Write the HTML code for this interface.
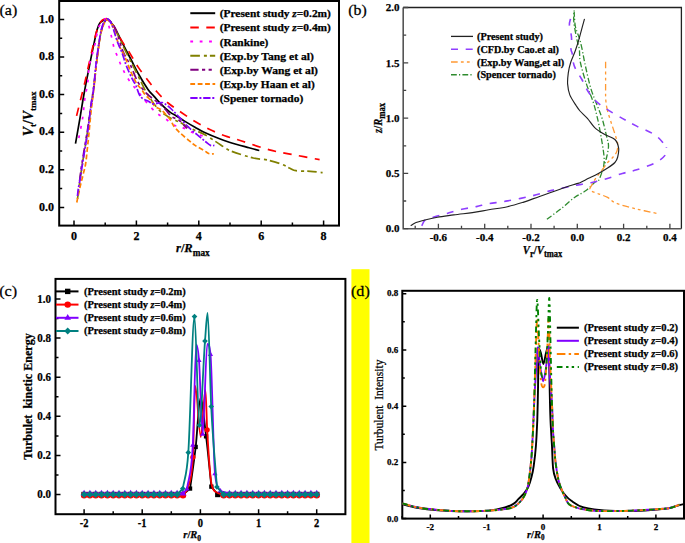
<!DOCTYPE html>
<html><head><meta charset="utf-8"><style>
html,body{margin:0;padding:0;background:#fff;width:685px;height:543px;overflow:hidden}
svg{display:block}
text{font-family:"Liberation Serif",serif;fill:#000;stroke:#000;stroke-width:0.25px}
</style></head><body>
<svg width="685" height="543" viewBox="0 0 685 543">
<rect width="685" height="543" fill="#fff"/>
<g id="pa">
<rect x="59.2" y="1" width="279.8" height="224.6" fill="none" stroke="#000" stroke-width="2"/>
<path d="M74,225.6 v-5 M105.2,225.6 v-3 M136.4,225.6 v-5 M167.6,225.6 v-3 M198.8,225.6 v-5 M230,225.6 v-3 M261.2,225.6 v-5 M292.4,225.6 v-3 M323.6,225.6 v-5 M59.2,207.4 h5 M59.2,188.6 h3 M59.2,169.8 h5 M59.2,151 h3 M59.2,132.2 h5 M59.2,113.4 h3 M59.2,94.6 h5 M59.2,75.8 h3 M59.2,57 h5 M59.2,38.2 h3 M59.2,19.4 h5" stroke="#000" stroke-width="1.5" fill="none"/>
<text x="74" y="240" font-size="12" text-anchor="middle" font-weight="bold" font-style="normal" >0</text>
<text x="136.4" y="240" font-size="12" text-anchor="middle" font-weight="bold" font-style="normal" >2</text>
<text x="198.8" y="240" font-size="12" text-anchor="middle" font-weight="bold" font-style="normal" >4</text>
<text x="261.2" y="240" font-size="12" text-anchor="middle" font-weight="bold" font-style="normal" >6</text>
<text x="323.6" y="240" font-size="12" text-anchor="middle" font-weight="bold" font-style="normal" >8</text>
<text x="53.9" y="210.5" font-size="12" text-anchor="end" font-weight="bold" font-style="normal" >0.0</text>
<text x="53.9" y="172.9" font-size="12" text-anchor="end" font-weight="bold" font-style="normal" >0.2</text>
<text x="53.9" y="135.3" font-size="12" text-anchor="end" font-weight="bold" font-style="normal" >0.4</text>
<text x="53.9" y="97.7" font-size="12" text-anchor="end" font-weight="bold" font-style="normal" >0.6</text>
<text x="53.9" y="60.1" font-size="12" text-anchor="end" font-weight="bold" font-style="normal" >0.8</text>
<text x="53.9" y="22.5" font-size="12" text-anchor="end" font-weight="bold" font-style="normal" >1.0</text>
<text x="176" y="252.4" font-size="12.5" font-weight="bold"><tspan font-style="italic">r</tspan>/<tspan font-style="italic">R</tspan><tspan font-size="9.3" dy="4">max</tspan></text>
<text transform="translate(33.4,136.2) rotate(-90)" font-size="13.8" font-weight="bold"><tspan font-style="italic">V</tspan><tspan font-size="9" dy="3">t</tspan><tspan dy="-3">/</tspan><tspan font-style="italic">V</tspan><tspan font-size="9" dy="3">tmax</tspan></text>
<path d="M190.3,13.2 H215.2" stroke="#000" stroke-width="2"/>
<text x="219.7" y="17.2" font-size="10.2" text-anchor="start" font-weight="bold" font-style="normal" textLength="111.2" lengthAdjust="spacingAndGlyphs">(Present study <tspan font-style="italic">z</tspan>=0.2m)</text>
<path d="M190.3,27.4 H215.2" stroke="#ff0000" stroke-width="2" stroke-dasharray="8.5 7.5"/>
<text x="219.7" y="31.4" font-size="10.2" text-anchor="start" font-weight="bold" font-style="normal" textLength="111.2" lengthAdjust="spacingAndGlyphs">(Present study <tspan font-style="italic">z</tspan>=0.4m)</text>
<path d="M190.3,41.5 H215.2" stroke="#ff00ff" stroke-width="2" stroke-dasharray="2.8 6.6"/>
<text x="219.7" y="45.5" font-size="10.2" text-anchor="start" font-weight="bold" font-style="normal" textLength="48.6" lengthAdjust="spacingAndGlyphs">(Rankine)</text>
<path d="M190.3,55.7 H215.2" stroke="#808000" stroke-width="2" stroke-dasharray="9.6 4 3 3"/>
<text x="219.7" y="59.7" font-size="10.2" text-anchor="start" font-weight="bold" font-style="normal" textLength="94.1" lengthAdjust="spacingAndGlyphs">(Exp.by Tang et al)</text>
<path d="M190.3,69.8 H215.2" stroke="#800080" stroke-width="2" stroke-dasharray="8.3 3.4 3.2 3.4 3.2 3.4"/>
<text x="219.7" y="73.8" font-size="10.2" text-anchor="start" font-weight="bold" font-style="normal" textLength="98.3" lengthAdjust="spacingAndGlyphs">(Exp.by Wang et al)</text>
<path d="M190.3,84 H215.2" stroke="#ff8000" stroke-width="2" stroke-dasharray="4.8 2.6"/>
<text x="219.7" y="88" font-size="10.2" text-anchor="start" font-weight="bold" font-style="normal" textLength="95.0" lengthAdjust="spacingAndGlyphs">(Exp.by Haan et al)</text>
<path d="M190.3,98.1 H215.2" stroke="#8000ff" stroke-width="2" stroke-dasharray="7.3 1.8 2 1.8"/>
<text x="219.7" y="102.1" font-size="10.2" text-anchor="start" font-weight="bold" font-style="normal" textLength="83.6" lengthAdjust="spacingAndGlyphs">(Spener tornado)</text>
</g>
<path d="M75.5,143.6 C76.2,139.3 78.6,126.3 80,118 C81.4,109.7 82.6,101.7 84,94 C85.4,86.3 86.8,79.1 88.3,71.7 C89.8,64.3 91.2,56.6 92.7,49.6 C94.2,42.6 95.9,34.1 97.1,29.7 C98.3,25.3 98.8,24.6 99.9,23 C101,21.4 102.5,21 103.7,20.3 C104.9,19.6 105.8,18.5 107,18.9 C108.2,19.3 109.5,20.6 111,22.5 C112.5,24.4 113.7,26.1 115.9,30 C118.1,34 121.4,41.1 124,46.2 C126.6,51.3 129.1,55.9 131.5,60.5 C133.9,65.1 135.8,69.2 138.5,74 C141.2,78.8 145.4,85.7 148,89.5 C150.6,93.3 152.2,94.2 154.3,96.6 C156.4,99 158.2,101.3 160.8,103.9 C163.4,106.5 167.4,110.2 170,112.2 C172.6,114.2 173.9,114.4 176.4,115.9 C178.9,117.4 181.9,119.5 185,121.4 C188.1,123.3 191.8,125.5 195,127.3 C198.2,129.1 200.2,130.5 204.1,132.3 C208,134.1 214.1,136.7 218.3,138.3 C222.5,140 224.2,140.6 229.3,142.2 C234.4,143.8 244,146.4 249,147.8 C254,149.2 257.6,150.1 259.3,150.5" stroke="#000" stroke-width="1.7" fill="none"/>
<path d="M76.6,115.9 C77.2,113.2 79.2,105.3 80.5,100 C81.8,94.7 83.3,89.1 84.5,84 C85.7,78.9 86.3,75.6 87.7,69.5 C89.1,63.4 91.2,54 92.7,47.4 C94.2,40.8 95.6,34.3 97,30 C98.4,25.7 99.7,23.3 101,21.5 C102.3,19.7 103.8,19.4 105,19 C106.2,18.6 106.7,18.2 108,19.2 C109.3,20.2 111.5,22.9 113,25 C114.5,27.1 115.5,29.3 117,32 C118.5,34.7 119.8,37.6 121.8,41 C123.8,44.4 126.5,47.8 129.2,52.1 C131.9,56.4 134.7,62 138,66.9 C141.3,71.8 145.6,77.2 148.8,81.4 C152,85.6 153.9,88.4 157.1,92 C160.3,95.6 164.1,99.6 168.1,103 C172.1,106.4 176.5,109.1 181,112.2 C185.5,115.3 190.4,118.8 195.1,121.6 C199.8,124.4 204.4,127 209.3,129.3 C214.2,131.7 219.4,133.8 224.7,135.7 C230,137.6 233.4,138.3 240.9,140.7 C248.4,143.1 260.5,147.5 269.5,149.9 C278.5,152.3 286.6,153.4 295,155 C303.4,156.6 315.5,158.9 319.6,159.7" stroke="#ff0000" stroke-width="1.7" fill="none" stroke-dasharray="8.5 7.5"/>
<path d="M78.8,138 C79.4,134.8 81.5,125.2 82.5,118.8 C83.5,112.4 83.9,105.6 84.7,99.7 C85.5,93.8 86.8,89.3 87.6,83.5 C88.4,77.7 88.3,71 89.4,65 C90.5,59 92.8,53.5 94.3,47.4 C95.8,41.3 96.8,33 98.2,28.6 C99.6,24.2 101.3,22.4 102.6,20.8 C103.9,19.2 105,18.5 106,19.2 C107,19.9 107.8,22.9 108.5,25 C109.2,27.1 109.9,29.5 110.5,32 C111.1,34.5 111.5,37.2 112.2,40 C112.9,42.8 113.4,46 114.4,49 C115.4,52 116.9,55 118.1,58 C119.3,61 120.4,64 121.8,66.9 C123.2,69.9 124.5,72.8 126.2,75.7 C127.9,78.7 130.2,82 132.1,84.6 C134,87.1 135.8,88.5 137.8,91 C139.8,93.5 141.6,96.5 143.9,99.3 C146.2,102.1 149.2,105.6 151.6,108.1 C153.9,110.6 155.7,112.3 158,114.1 C160.3,115.9 162.9,116.9 165.5,118.7 C168.1,120.5 170.9,123.6 173.7,125.1 C176.4,126.5 178.9,126.2 182,127.4 C185.1,128.6 188.2,130.8 192.5,132.5 C196.8,134.2 205.4,136.8 208,137.7" stroke="#ff00ff" stroke-width="1.7" fill="none" stroke-dasharray="2.8 6.6"/>
<path d="M77.5,199 C77.9,195.8 79.1,186.5 80,180 C80.9,173.5 82,166.2 83,160 C84,153.8 85,148.3 85.8,143 C86.6,137.7 87.2,133.8 88,128 C88.8,122.2 89.8,114.7 90.8,108 C91.8,101.3 92.7,96 93.7,88 C94.7,80 95.7,69 96.8,60 C97.9,51 99.5,40 100.6,34 C101.7,28 102.4,26.4 103.5,24 C104.6,21.6 105.9,20 107,19.5 C108.1,19 108.8,19.8 110,21 C111.2,22.2 112.7,24.7 114,27 C115.3,29.3 116.3,31.5 118,35 C119.7,38.5 121.4,42.7 124,48 C126.6,53.3 130.5,60.8 133.6,66.9 C136.7,73 140.5,80.7 142.4,84.6 C144.3,88.5 143.9,87.9 145.1,90.1 C146.3,92.2 147.8,94.7 149.7,97.5 C151.5,100.3 154,104.1 156.2,106.7 C158.3,109.3 160,111.1 162.6,113.1 C165.2,115.1 168.9,117.2 171.8,118.7 C174.7,120.2 177.3,121 180.1,122.4 C182.9,123.9 184.5,125.3 188.7,127.4 C192.9,129.5 200.1,132.2 205.4,135.1 C210.7,138 216.2,142.1 220.4,144.7 C224.6,147.3 225.2,148.7 230.7,150.9 C236.1,153.1 247,156.5 253.1,158 C259.2,159.5 262.6,159 267.4,160 C272.2,161 277.9,162.8 281.7,164.2 C285.4,165.6 287.5,167.1 289.9,168.2 C292.3,169.3 292.6,170.2 296,170.7 C299.4,171.2 306,171 310.4,171.3 C314.8,171.6 320.6,172.5 322.6,172.7" stroke="#808000" stroke-width="1.7" fill="none" stroke-dasharray="9.6 4 3 3"/>
<path d="M79.6,181 C79.9,178.9 80.6,172.2 81.2,168.2 C81.8,164.2 82.3,161.4 83,157 C83.7,152.6 84.7,147 85.5,142 C86.3,137 87.1,133 88,127 C88.9,121 89.8,113 90.8,106 C91.8,99 93,93 94,85 C95,77 95.9,66.7 97,58 C98.1,49.3 99.6,38.8 100.8,33 C102,27.2 102.9,25.3 104,23 C105.1,20.7 106.3,19.5 107.5,19.3 C108.7,19.1 109.6,20.2 111,22 C112.4,23.8 114,25 116,30 C118,35 120.9,46.2 123.3,52.1 C125.7,58 128.2,60.5 130.6,65.4 C133,70.4 135.2,77.2 137.8,81.8 C140.4,86.4 143.2,89.9 146,92.9 C148.8,95.9 152,98 154.3,99.8 C156.6,101.6 158.1,102.3 159.9,103.9 C161.8,105.5 163.4,107.3 165.4,109.5 C167.4,111.7 169.7,115.1 171.8,116.8 C174,118.5 176.3,118.2 178.3,119.6 C180.3,121 182.4,123.6 183.8,125.1 C185.2,126.6 186.5,127.9 187,128.5" stroke="#800080" stroke-width="1.7" fill="none" stroke-dasharray="8.3 3.4 3.2 3.4 3.2 3.4"/>
<path d="M76.8,202.5 C77,201.2 77.7,197.9 78.3,195 C78.9,192.1 79.7,188.3 80.5,185 C81.3,181.7 82.2,178.5 83,175 C83.8,171.5 84.9,168.2 85.6,164 C86.3,159.8 86.7,154.8 87.2,150 C87.7,145.2 88.2,141 88.8,135 C89.4,129 90,121.2 90.8,114 C91.6,106.8 92.5,100.3 93.5,92 C94.5,83.7 95.3,73.3 96.5,64 C97.7,54.7 99.2,42.5 100.4,36 C101.6,29.5 102.5,27.7 103.5,25 C104.5,22.3 105.6,20.7 106.5,20 C107.4,19.3 107.9,19.8 109,21 C110.1,22.2 111.4,23.1 113,27 C114.6,30.9 116.8,39.8 118.8,44.7 C120.8,49.6 122.7,52.1 124.7,56.5 C126.7,60.9 128.6,66.8 130.6,71.3 C132.6,75.8 135,80.7 136.8,83.7 C138.6,86.7 140,87.4 141.4,89.2 C142.8,91 143.6,92.9 145.1,94.7 C146.6,96.5 149,98.3 150.7,100.3 C152.4,102.3 153.6,105.2 155.3,106.7 C157,108.2 159,108.1 160.8,109.5 C162.6,110.9 164.6,113.2 166.3,115 C168,116.8 169.7,118.7 170.9,120.5 C172.1,122.3 172.2,124 173.7,126 C175.1,128 177.1,130.1 179.6,132.5 C182.1,134.9 186.1,138.2 188.7,140.3 C191.3,142.5 192.5,143.7 195.1,145.4 C197.7,147.1 201.7,149.2 204.1,150.6 C206.5,152 207.7,153.3 209.3,153.8 C210.9,154.3 213.1,153.8 213.8,153.8" stroke="#ff8000" stroke-width="1.7" fill="none" stroke-dasharray="4.8 2.6"/>
<path d="M77.5,196 C77.6,194.8 77.8,192 78.3,188.8 C78.8,185.6 79.8,181.4 80.5,177 C81.2,172.6 81.9,167.8 82.7,162.4 C83.5,157 84.7,150.1 85.6,144.7 C86.5,139.3 87.1,136 87.9,130 C88.7,124 89.7,115.3 90.6,108.5 C91.5,101.7 92.5,97.5 93.5,89.4 C94.5,81.3 95.3,69.2 96.5,60 C97.7,50.8 99.3,40.1 100.4,34.1 C101.5,28.1 102.1,26.5 103,24 C103.9,21.5 105.1,20.1 106,19.3 C106.9,18.6 107.5,18.6 108.5,19.5 C109.5,20.4 110.5,21.3 112,25 C113.5,28.7 115.8,37.3 117.4,41.8 C119,46.3 120.3,48.2 121.8,52.1 C123.3,56 124.5,61 126.2,65.4 C127.9,69.8 130.5,75.4 132.1,78.7 C133.7,82 134.5,82.5 135.9,85.5 C137.3,88.5 138.3,93.9 140.5,96.6 C142.7,99.3 146.7,100.4 148.8,101.6 C151,102.8 151.4,103.7 153.4,103.9 C155.4,104.1 159,102.7 160.8,102.6 C162.7,102.5 162.7,102.3 164.5,103.5 C166.3,104.7 169.3,107.1 171.8,109.5 C174.3,111.9 176.8,114.7 179.6,117.7 C182.4,120.7 185.7,124.5 188.7,127.4 C191.7,130.3 194.9,132.8 197.7,135.1 C200.5,137.4 203.2,139.8 205.4,141.5 C207.6,143.2 209.1,144.8 210.6,145.4 C212.1,146.1 213.8,145.4 214.4,145.4" stroke="#8000ff" stroke-width="1.7" fill="none" stroke-dasharray="7.3 1.8 2 1.8"/>
<g id="pb">
<path d="M403.2,7.5 H681.4 V228.7" stroke="#222" stroke-width="1.3" fill="none"/>
<path d="M403.2,7.5 V228.7 H681.4" stroke="#555" stroke-width="1.6" fill="none"/>
<path d="M415.2,228.7 v-3 M438.4,228.7 v-5 M461.5,228.7 v-3 M484.7,228.7 v-5 M507.8,228.7 v-3 M531,228.7 v-5 M554.1,228.7 v-3 M577.3,228.7 v-5 M600.4,228.7 v-3 M623.6,228.7 v-5 M646.8,228.7 v-3 M669.9,228.7 v-5 M403.2,228.7 h5 M403.2,201 h3 M403.2,173.4 h5 M403.2,145.8 h3 M403.2,118.1 h5 M403.2,90.4 h3 M403.2,62.8 h5 M403.2,35.2 h3 M403.2,7.5 h5" stroke="#444" stroke-width="1.3" fill="none"/>
<text x="438.4" y="241.2" font-size="11" text-anchor="middle" font-weight="bold" font-style="normal" >-0.6</text>
<text x="484.7" y="241.2" font-size="11" text-anchor="middle" font-weight="bold" font-style="normal" >-0.4</text>
<text x="531" y="241.2" font-size="11" text-anchor="middle" font-weight="bold" font-style="normal" >-0.2</text>
<text x="577.3" y="241.2" font-size="11" text-anchor="middle" font-weight="bold" font-style="normal" >0.0</text>
<text x="623.6" y="241.2" font-size="11" text-anchor="middle" font-weight="bold" font-style="normal" >0.2</text>
<text x="669.9" y="241.2" font-size="11" text-anchor="middle" font-weight="bold" font-style="normal" >0.4</text>
<text x="399.5" y="231.5" font-size="11" text-anchor="end" font-weight="bold" font-style="normal" >0.0</text>
<text x="399.5" y="177.2" font-size="11" text-anchor="end" font-weight="bold" font-style="normal" >0.5</text>
<text x="399.5" y="121.9" font-size="11" text-anchor="end" font-weight="bold" font-style="normal" >1.0</text>
<text x="399.5" y="66.6" font-size="11" text-anchor="end" font-weight="bold" font-style="normal" >1.5</text>
<text x="399.5" y="11.3" font-size="11" text-anchor="end" font-weight="bold" font-style="normal" >2.0</text>
<text x="522.8" y="253.5" font-size="12" font-weight="bold" textLength="39.5" lengthAdjust="spacingAndGlyphs"><tspan font-style="italic">V</tspan><tspan font-size="9.5" dy="3">r</tspan><tspan dy="-3">/</tspan><tspan font-style="italic">V</tspan><tspan font-size="9.5" dy="3">tmax</tspan></text>
<text transform="translate(382.4,132.9) rotate(-90)" font-size="11.5" font-weight="bold" textLength="30" lengthAdjust="spacingAndGlyphs"><tspan font-style="italic">z</tspan>/<tspan font-style="italic">R</tspan><tspan font-size="9.5" dy="3">max</tspan></text>
<path d="M451,36.4 H473" stroke="#222" stroke-width="1.3"/>
<text x="477" y="39.9" font-size="9.6" text-anchor="start" font-weight="bold" font-style="normal" textLength="66.0" lengthAdjust="spacingAndGlyphs">(Present study)</text>
<path d="M451,49.2 H473" stroke="#8f3fff" stroke-width="1.4" stroke-dasharray="7 7.7"/>
<text x="477" y="52.7" font-size="9.6" text-anchor="start" font-weight="bold" font-style="normal" textLength="82.0" lengthAdjust="spacingAndGlyphs">(CFD.by Cao.et al)</text>
<path d="M451,62 H473" stroke="#ff9933" stroke-width="1.4" stroke-dasharray="6.7 3.2 2.8 3.2 2.8 3.2"/>
<text x="477" y="65.5" font-size="9.6" text-anchor="start" font-weight="bold" font-style="normal" textLength="87.2" lengthAdjust="spacingAndGlyphs">(Exp.by Wang,et al)</text>
<path d="M451,74.8 H473" stroke="#2e8b2e" stroke-width="1.4" stroke-dasharray="5.8 2.2 1.2 2.2"/>
<text x="477" y="78.3" font-size="9.6" text-anchor="start" font-weight="bold" font-style="normal" textLength="78.8" lengthAdjust="spacingAndGlyphs">(Spencer tornado)</text>
</g>
<path d="M546.9,219.3 C549.2,217.6 556.1,212.6 560.7,209 C565.3,205.4 570.3,200.6 574.5,197.5 C578.7,194.4 582.5,193.2 586,190.6 C589.5,188 593.1,183.6 595.2,182 C597.3,180.4 597.2,182.6 598.4,180.9 C599.5,179.2 601.2,174.5 602.1,171.7 C603,168.9 603.6,167.1 603.9,164.3 C604.2,161.5 604.4,159.7 603.9,155.1 C603.4,150.5 602.2,142.9 601.1,136.8 C600,130.7 598.9,124.3 597.5,118.4 C596.1,112.5 594.9,107.2 593,101.5 C591.1,95.8 588.5,90.4 586.4,83.9 C584.3,77.4 581.6,68.3 580.4,62.5 C579.2,56.7 579.9,53.3 579.3,49.2 C578.7,45.1 577.5,42.7 576.6,38.1 C575.7,33.5 574.2,26.1 573.8,21.6 C573.4,17.1 574,12 574.1,11.1 C574.2,10.2 574.2,13.3 574.4,16 C574.6,18.7 574.7,23.4 575.5,27.1 C576.3,30.8 578.2,34.4 579.3,38.1 C580.4,41.8 581.2,45 582.1,49.2 C583,53.5 583.5,57.1 584.9,63.6 C586.3,70.1 588.7,81.2 590.8,88.3 C592.9,95.4 595.5,101 597.4,106 C599.3,111 600.5,113.3 602.1,118.4 C603.7,123.5 605.6,132.2 606.7,136.8 C607.8,141.4 608.5,142.6 608.5,146 C608.5,149.4 607.5,153.6 606.7,157 C605.9,160.4 604.4,164.7 603.9,166.2" stroke="#2e8b2e" stroke-width="1.3" fill="none" stroke-dasharray="5.8 2.2 1.2 2.2"/>
<path d="M605.6,61.8 C605.6,66.2 605.6,81.9 605.6,88.3 C605.6,94.7 605.5,96.2 605.8,100 C606.1,103.8 606.5,106.7 607.6,111 C608.7,115.3 610.8,121.4 612.2,125.7 C613.6,130 614.9,133.7 615.8,136.8 C616.7,139.9 617.5,141.7 617.7,144.1 C617.9,146.5 617.6,149.3 616.8,151.5 C616,153.7 614.6,155.2 613.1,157 C611.6,158.8 609.4,160.3 607.6,162.5 C605.8,164.7 604,167.5 602.1,169.9 C600.2,172.3 598.2,174.8 596.5,177.2 C594.8,179.6 593.1,182.4 592,184.6 C590.9,186.8 589,188.6 590.1,190.1 C591.2,191.6 595.5,192.6 598.4,193.8 C601.3,195 604.7,195.8 607.6,197.4 C610.5,199 611.1,201.3 616,203.2 C620.9,205.1 629.8,207.3 636.7,209 C643.6,210.7 654,212.8 657.4,213.6" stroke="#ff9933" stroke-width="1.3" fill="none" stroke-dasharray="6.7 3.2 2.8 3.2 2.8 3.2"/>
<path d="M421.8,225.8 C422.4,224.8 423.3,221.4 425.3,219.9 C427.3,218.4 430.4,218.1 434,217 C437.6,215.9 442.6,214.7 447.2,213.4 C451.8,212.1 456.9,210.4 461.8,209.3 C466.7,208.2 471.9,207.5 476.4,206.6 C480.9,205.7 483.6,204.6 488.8,203.7 C494,202.8 500.5,202.2 507.5,200.9 C514.5,199.7 523.4,197.9 530.8,196.2 C538.2,194.4 545.4,192 551.9,190.4 C558.4,188.8 565.2,187.5 569.9,186.5 C574.6,185.5 576.5,185.2 580,184.6 C583.5,184 586.7,183.6 591,182.7 C595.3,181.8 600.5,180.5 605.7,179 C610.9,177.5 617.1,175 622.3,173.5 C627.5,172 631.2,171.6 636.7,169.8 C642.2,168 650.3,165.4 655.1,162.9 C659.9,160.4 663.4,157.7 665.3,155 C667.2,152.3 666.3,148.3 666.5,147" stroke="#8f3fff" stroke-width="1.6" fill="none" stroke-dasharray="7 7.7"/>
<path d="M570.5,18.8 C570.3,19.8 569.3,22.4 569.4,24.9 C569.5,27.4 570.6,31.3 571,33.7 C571.4,36.1 571.6,36.7 571.6,39.3 C571.6,41.9 570.9,46.8 571,49.2 C571.1,51.6 571.8,51.4 572.2,53.6 C572.6,55.8 572.8,60 573.3,62.5 C573.8,65 573.9,65.6 575.3,68.4 C576.7,71.2 579.9,75.8 581.9,79.5 C583.9,83.2 585.4,87.1 587.5,90.5 C589.6,93.9 592,97.2 594.7,100 C597.4,102.8 599.3,104.3 603.9,107.4 C608.5,110.5 616.8,115.3 622.3,118.4 C627.8,121.5 631.2,123.3 636.7,126.1 C642.2,128.9 650.5,131.8 655.5,135.3 C660.5,138.8 664.7,145.1 666.5,147" stroke="#8f3fff" stroke-width="1.6" fill="none" stroke-dasharray="7 7.7"/>
<path d="M584.5,18.8 C583.6,22 580.8,32.8 579.3,38.1 C577.8,43.4 576.7,46.8 575.3,50.8 C573.9,54.8 572.1,58.1 570.9,61.8 C569.7,65.5 568.8,69.1 568.3,72.8 C567.8,76.5 567.4,80.2 567.6,83.9 C567.9,87.6 568.3,91.2 569.8,94.9 C571.3,98.6 574.7,103.3 576.4,106 C578.1,108.7 578.2,108.9 580,111 C581.8,113.1 584.9,115.6 587.4,118.4 C589.9,121.2 592,125 594.7,127.6 C597.5,130.2 600.5,132 603.9,134 C607.3,136 612.4,137.2 614.9,139.5 C617.4,141.8 618.1,144.9 618.6,147.8 C619.1,150.7 618.3,154.6 617.7,157 C617.1,159.4 616.6,160.7 614.9,162.5 C613.2,164.3 610.4,166.2 607.6,168 C604.9,169.8 601.5,171.8 598.4,173.5 C595.3,175.2 592.3,176.6 589.2,178.1 C586.1,179.6 582.1,181.8 580,182.7 C577.9,183.6 580.1,182.5 576.8,183.6 C573.5,184.7 566.1,187.1 560,189.2 C553.9,191.3 546.2,194 540.2,196.2 C534.2,198.3 529.2,200.3 523.8,202.1 C518.3,203.8 513.3,205.4 507.5,206.7 C501.7,208 494.7,208.8 488.8,209.8 C482.9,210.8 478.2,211.8 472.4,212.6 C466.5,213.4 459.5,214.1 453.7,214.9 C447.9,215.7 442.3,216.3 437.4,217.2 C432.4,218.1 427.6,219.4 424,220.3 C420.4,221.2 417.7,221.9 415.5,222.8 C413.3,223.7 411.5,225.2 410.7,225.7" stroke="#222" stroke-width="1.15" fill="none"/>
<g id="pc">
<rect x="55.5" y="278.9" width="289.9" height="235.3" fill="none" stroke="#000" stroke-width="2"/>
<path d="M84.1,514.2 v-5 M113.2,514.2 v-3 M142.2,514.2 v-5 M171.3,514.2 v-3 M200.4,514.2 v-5 M229.5,514.2 v-3 M258.6,514.2 v-5 M287.6,514.2 v-3 M316.7,514.2 v-5 M55.5,494.5 h5 M55.5,474.9 h3 M55.5,455.4 h5 M55.5,435.9 h3 M55.5,416.3 h5 M55.5,396.8 h3 M55.5,377.2 h5 M55.5,357.6 h3 M55.5,338.1 h5 M55.5,318.5 h3 M55.5,299 h5" stroke="#000" stroke-width="1.5" fill="none"/>
<text transform="translate(84.1,527.2) scale(0.86,1)" font-size="12.2" text-anchor="middle" font-weight="bold">-2</text>
<text transform="translate(142.2,527.2) scale(0.86,1)" font-size="12.2" text-anchor="middle" font-weight="bold">-1</text>
<text transform="translate(200.4,527.2) scale(0.86,1)" font-size="12.2" text-anchor="middle" font-weight="bold">0</text>
<text transform="translate(258.6,527.2) scale(0.86,1)" font-size="12.2" text-anchor="middle" font-weight="bold">1</text>
<text transform="translate(316.7,527.2) scale(0.86,1)" font-size="12.2" text-anchor="middle" font-weight="bold">2</text>
<text transform="translate(51.0,498.1) scale(0.88,1)" font-size="12.5" text-anchor="end" font-weight="bold">0.0</text>
<text transform="translate(51.0,459) scale(0.88,1)" font-size="12.5" text-anchor="end" font-weight="bold">0.2</text>
<text transform="translate(51.0,419.9) scale(0.88,1)" font-size="12.5" text-anchor="end" font-weight="bold">0.4</text>
<text transform="translate(51.0,380.8) scale(0.88,1)" font-size="12.5" text-anchor="end" font-weight="bold">0.6</text>
<text transform="translate(51.0,341.7) scale(0.88,1)" font-size="12.5" text-anchor="end" font-weight="bold">0.8</text>
<text transform="translate(51.0,302.6) scale(0.88,1)" font-size="12.5" text-anchor="end" font-weight="bold">1.0</text>
<text x="183.3" y="538.3" font-size="10.5" font-weight="bold"><tspan font-style="italic">r</tspan>/<tspan font-style="italic">R</tspan><tspan font-size="7.5" dy="2.8">0</tspan></text>
<text transform="translate(31.6,459.7) rotate(-90)" font-size="12" font-weight="bold" xml:space="preserve" textLength="126.4" lengthAdjust="spacingAndGlyphs">Turbulet  kinetic Energy</text>
</g>
<path d="M56,291.4 H78.5" stroke="#000" stroke-width="2"/>
<rect x="65" y="288.7" width="5.4" height="5.4" fill="#000"/>
<text x="84" y="294.6" font-size="9.8" text-anchor="start" font-weight="bold" font-style="normal" textLength="101.8" lengthAdjust="spacingAndGlyphs">(Present study <tspan font-style="italic">z</tspan>=0.2m)</text>
<path d="M56,304.6 H78.5" stroke="#ff0000" stroke-width="2"/>
<circle cx="67.7" cy="304.6" r="3.2" fill="#ff0000"/>
<text x="84" y="307.8" font-size="9.8" text-anchor="start" font-weight="bold" font-style="normal" textLength="101.8" lengthAdjust="spacingAndGlyphs">(Present study <tspan font-style="italic">z</tspan>=0.4m)</text>
<path d="M56,317.8 H78.5" stroke="#8000ff" stroke-width="2"/>
<path d="M67.7,314.1 l3.3,5.6 h-6.6z" fill="#8000ff"/>
<text x="84" y="321" font-size="9.8" text-anchor="start" font-weight="bold" font-style="normal" textLength="101.8" lengthAdjust="spacingAndGlyphs">(Present study <tspan font-style="italic">z</tspan>=0.6m)</text>
<path d="M56,331 H78.5" stroke="#008080" stroke-width="2"/>
<path d="M67.7,327.5 l3.5,3.5 l-3.5,3.5 l-3.5,-3.5 z" fill="#008080"/>
<text x="84" y="334.2" font-size="9.8" text-anchor="start" font-weight="bold" font-style="normal" textLength="101.8" lengthAdjust="spacingAndGlyphs">(Present study <tspan font-style="italic">z</tspan>=0.8m)</text>
<path d="M84.1,494.5 L89.9,494.5 L95.7,494.5 L101.5,494.5 L107.4,494.5 L113.2,494.5 L119,494.5 L124.8,494.5 L130.6,494.5 L136.4,494.5 L142.2,494.5 L148.1,494.5 L153.9,494.5 L159.7,494.5 L165.5,494.5 L171.3,494.5 L177.1,494.5 L183,494.5 L190.1,488.6" stroke="#000" stroke-width="1.8" fill="none"/>
<path d="M190.1,488.6 C192,474.7 193.8,463.5 195.7,447 C197.3,432.9 198.9,398 200.5,398 C202.4,398 204.2,421.1 206.1,436.4 C207.9,450.8 209.6,469.9 211.4,486.7" stroke="#000" stroke-width="1.8" fill="none"/>
<path d="M211.4,486.7 L217.8,494.5 L223.7,494.5 L229.5,494.5 L235.3,494.5 L241.1,494.5 L246.9,494.5 L252.7,494.5 L258.6,494.5 L264.4,494.5 L270.2,494.5 L276,494.5 L281.8,494.5 L287.6,494.5 L293.4,494.5 L299.3,494.5 L305.1,494.5 L310.9,494.5 L316.7,494.5" stroke="#000" stroke-width="1.8" fill="none"/>
<rect x="81.4" y="491.8" width="5.4" height="5.4" fill="#000"/><rect x="87.2" y="491.8" width="5.4" height="5.4" fill="#000"/><rect x="93" y="491.8" width="5.4" height="5.4" fill="#000"/><rect x="98.8" y="491.8" width="5.4" height="5.4" fill="#000"/><rect x="104.7" y="491.8" width="5.4" height="5.4" fill="#000"/><rect x="110.5" y="491.8" width="5.4" height="5.4" fill="#000"/><rect x="116.3" y="491.8" width="5.4" height="5.4" fill="#000"/><rect x="122.1" y="491.8" width="5.4" height="5.4" fill="#000"/><rect x="127.9" y="491.8" width="5.4" height="5.4" fill="#000"/><rect x="133.7" y="491.8" width="5.4" height="5.4" fill="#000"/><rect x="139.6" y="491.8" width="5.4" height="5.4" fill="#000"/><rect x="145.4" y="491.8" width="5.4" height="5.4" fill="#000"/><rect x="151.2" y="491.8" width="5.4" height="5.4" fill="#000"/><rect x="157" y="491.8" width="5.4" height="5.4" fill="#000"/><rect x="162.8" y="491.8" width="5.4" height="5.4" fill="#000"/><rect x="168.6" y="491.8" width="5.4" height="5.4" fill="#000"/><rect x="174.4" y="491.8" width="5.4" height="5.4" fill="#000"/><rect x="180.3" y="491.8" width="5.4" height="5.4" fill="#000"/><rect x="215.1" y="491.8" width="5.4" height="5.4" fill="#000"/><rect x="221" y="491.8" width="5.4" height="5.4" fill="#000"/><rect x="226.8" y="491.8" width="5.4" height="5.4" fill="#000"/><rect x="232.6" y="491.8" width="5.4" height="5.4" fill="#000"/><rect x="238.4" y="491.8" width="5.4" height="5.4" fill="#000"/><rect x="244.2" y="491.8" width="5.4" height="5.4" fill="#000"/><rect x="250" y="491.8" width="5.4" height="5.4" fill="#000"/><rect x="255.9" y="491.8" width="5.4" height="5.4" fill="#000"/><rect x="261.7" y="491.8" width="5.4" height="5.4" fill="#000"/><rect x="267.5" y="491.8" width="5.4" height="5.4" fill="#000"/><rect x="273.3" y="491.8" width="5.4" height="5.4" fill="#000"/><rect x="279.1" y="491.8" width="5.4" height="5.4" fill="#000"/><rect x="284.9" y="491.8" width="5.4" height="5.4" fill="#000"/><rect x="290.7" y="491.8" width="5.4" height="5.4" fill="#000"/><rect x="296.6" y="491.8" width="5.4" height="5.4" fill="#000"/><rect x="302.4" y="491.8" width="5.4" height="5.4" fill="#000"/><rect x="308.2" y="491.8" width="5.4" height="5.4" fill="#000"/><rect x="314" y="491.8" width="5.4" height="5.4" fill="#000"/><rect x="187.9" y="486.4" width="4.3" height="4.3" fill="#000"/><rect x="193.5" y="444.8" width="4.3" height="4.3" fill="#000"/><rect x="203.9" y="434.2" width="4.3" height="4.3" fill="#000"/><rect x="209.2" y="484.5" width="4.3" height="4.3" fill="#000"/>
<path d="M84.1,495.3 L89.9,495.3 L95.7,495.3 L101.5,495.3 L107.4,495.3 L113.2,495.3 L119,495.3 L124.8,495.3 L130.6,495.3 L136.4,495.3 L142.2,495.3 L148.1,495.3 L153.9,495.3 L159.7,495.3 L165.5,495.3 L171.3,495.3 L177.1,495.3 L183,495.3 L187,490.5" stroke="#ff0000" stroke-width="1.8" fill="none"/>
<path d="M187,490.5 C189,480.7 190.9,489 192.9,457.2 C193.7,444.8 194.4,386 195.2,386 C197.1,386 198.9,437 200.8,437 C202.3,437 203.9,389.9 205.4,389.9 C206,389.9 206.6,419.4 207.2,429.8 C208.6,454.7 210.1,476.9 211.5,484 C213.2,492.3 214.8,490.5 216.5,492.5" stroke="#ff0000" stroke-width="1.8" fill="none"/>
<path d="M216.5,492.5 L223.7,495.3 L229.5,495.3 L235.3,495.3 L241.1,495.3 L246.9,495.3 L252.7,495.3 L258.6,495.3 L264.4,495.3 L270.2,495.3 L276,495.3 L281.8,495.3 L287.6,495.3 L293.4,495.3 L299.3,495.3 L305.1,495.3 L310.9,495.3 L316.7,495.3" stroke="#ff0000" stroke-width="1.8" fill="none"/>
<circle cx="84.1" cy="495.3" r="3.2" fill="#ff0000"/><circle cx="89.9" cy="495.3" r="3.2" fill="#ff0000"/><circle cx="95.7" cy="495.3" r="3.2" fill="#ff0000"/><circle cx="101.5" cy="495.3" r="3.2" fill="#ff0000"/><circle cx="107.4" cy="495.3" r="3.2" fill="#ff0000"/><circle cx="113.2" cy="495.3" r="3.2" fill="#ff0000"/><circle cx="119" cy="495.3" r="3.2" fill="#ff0000"/><circle cx="124.8" cy="495.3" r="3.2" fill="#ff0000"/><circle cx="130.6" cy="495.3" r="3.2" fill="#ff0000"/><circle cx="136.4" cy="495.3" r="3.2" fill="#ff0000"/><circle cx="142.2" cy="495.3" r="3.2" fill="#ff0000"/><circle cx="148.1" cy="495.3" r="3.2" fill="#ff0000"/><circle cx="153.9" cy="495.3" r="3.2" fill="#ff0000"/><circle cx="159.7" cy="495.3" r="3.2" fill="#ff0000"/><circle cx="165.5" cy="495.3" r="3.2" fill="#ff0000"/><circle cx="171.3" cy="495.3" r="3.2" fill="#ff0000"/><circle cx="177.1" cy="495.3" r="3.2" fill="#ff0000"/><circle cx="183" cy="495.3" r="3.2" fill="#ff0000"/><circle cx="223.7" cy="495.3" r="3.2" fill="#ff0000"/><circle cx="229.5" cy="495.3" r="3.2" fill="#ff0000"/><circle cx="235.3" cy="495.3" r="3.2" fill="#ff0000"/><circle cx="241.1" cy="495.3" r="3.2" fill="#ff0000"/><circle cx="246.9" cy="495.3" r="3.2" fill="#ff0000"/><circle cx="252.7" cy="495.3" r="3.2" fill="#ff0000"/><circle cx="258.6" cy="495.3" r="3.2" fill="#ff0000"/><circle cx="264.4" cy="495.3" r="3.2" fill="#ff0000"/><circle cx="270.2" cy="495.3" r="3.2" fill="#ff0000"/><circle cx="276" cy="495.3" r="3.2" fill="#ff0000"/><circle cx="281.8" cy="495.3" r="3.2" fill="#ff0000"/><circle cx="287.6" cy="495.3" r="3.2" fill="#ff0000"/><circle cx="293.4" cy="495.3" r="3.2" fill="#ff0000"/><circle cx="299.3" cy="495.3" r="3.2" fill="#ff0000"/><circle cx="305.1" cy="495.3" r="3.2" fill="#ff0000"/><circle cx="310.9" cy="495.3" r="3.2" fill="#ff0000"/><circle cx="316.7" cy="495.3" r="3.2" fill="#ff0000"/><circle cx="192.9" cy="457.2" r="2.6" fill="#ff0000"/><circle cx="207.2" cy="429.8" r="2.6" fill="#ff0000"/>
<path d="M84.1,493.5 L89.9,493.5 L95.7,493.5 L101.5,493.5 L107.4,493.5 L113.2,493.5 L119,493.5 L124.8,493.5 L130.6,493.5 L136.4,493.5 L142.2,493.5 L148.1,493.5 L153.9,493.5 L159.7,493.5 L165.5,493.5 L171.3,493.5 L177.1,493.5 L183,493.5 L187,489" stroke="#8000ff" stroke-width="1.8" fill="none"/>
<path d="M187,489 C188.9,474.4 190.9,480.4 192.8,445.3 C194,424.1 195.1,344.7 196.3,344.7 C197.2,344.7 198.1,348.8 199,360.4 C200.2,376.3 201.5,434.2 202.7,434.2 C204.2,434.2 205.8,343.8 207.3,343.8 C208.4,343.8 209.4,343.8 210.5,354.4 C212,369.3 213.5,460 215,473.8 C216.8,490.6 218.7,487.5 220.5,491" stroke="#8000ff" stroke-width="1.8" fill="none"/>
<path d="M220.5,491 L229.5,493.5 L235.3,493.5 L241.1,493.5 L246.9,493.5 L252.7,493.5 L258.6,493.5 L264.4,493.5 L270.2,493.5 L276,493.5 L281.8,493.5 L287.6,493.5 L293.4,493.5 L299.3,493.5 L305.1,493.5 L310.9,493.5 L316.7,493.5" stroke="#8000ff" stroke-width="1.8" fill="none"/>
<path d="M84.1,489.8 l3.3,5.6 h-6.6z" fill="#8000ff"/><path d="M89.9,489.8 l3.3,5.6 h-6.6z" fill="#8000ff"/><path d="M95.7,489.8 l3.3,5.6 h-6.6z" fill="#8000ff"/><path d="M101.5,489.8 l3.3,5.6 h-6.6z" fill="#8000ff"/><path d="M107.4,489.8 l3.3,5.6 h-6.6z" fill="#8000ff"/><path d="M113.2,489.8 l3.3,5.6 h-6.6z" fill="#8000ff"/><path d="M119,489.8 l3.3,5.6 h-6.6z" fill="#8000ff"/><path d="M124.8,489.8 l3.3,5.6 h-6.6z" fill="#8000ff"/><path d="M130.6,489.8 l3.3,5.6 h-6.6z" fill="#8000ff"/><path d="M136.4,489.8 l3.3,5.6 h-6.6z" fill="#8000ff"/><path d="M142.2,489.8 l3.3,5.6 h-6.6z" fill="#8000ff"/><path d="M148.1,489.8 l3.3,5.6 h-6.6z" fill="#8000ff"/><path d="M153.9,489.8 l3.3,5.6 h-6.6z" fill="#8000ff"/><path d="M159.7,489.8 l3.3,5.6 h-6.6z" fill="#8000ff"/><path d="M165.5,489.8 l3.3,5.6 h-6.6z" fill="#8000ff"/><path d="M171.3,489.8 l3.3,5.6 h-6.6z" fill="#8000ff"/><path d="M177.1,489.8 l3.3,5.6 h-6.6z" fill="#8000ff"/><path d="M183,489.8 l3.3,5.6 h-6.6z" fill="#8000ff"/><path d="M229.5,489.8 l3.3,5.6 h-6.6z" fill="#8000ff"/><path d="M235.3,489.8 l3.3,5.6 h-6.6z" fill="#8000ff"/><path d="M241.1,489.8 l3.3,5.6 h-6.6z" fill="#8000ff"/><path d="M246.9,489.8 l3.3,5.6 h-6.6z" fill="#8000ff"/><path d="M252.7,489.8 l3.3,5.6 h-6.6z" fill="#8000ff"/><path d="M258.6,489.8 l3.3,5.6 h-6.6z" fill="#8000ff"/><path d="M264.4,489.8 l3.3,5.6 h-6.6z" fill="#8000ff"/><path d="M270.2,489.8 l3.3,5.6 h-6.6z" fill="#8000ff"/><path d="M276,489.8 l3.3,5.6 h-6.6z" fill="#8000ff"/><path d="M281.8,489.8 l3.3,5.6 h-6.6z" fill="#8000ff"/><path d="M287.6,489.8 l3.3,5.6 h-6.6z" fill="#8000ff"/><path d="M293.4,489.8 l3.3,5.6 h-6.6z" fill="#8000ff"/><path d="M299.3,489.8 l3.3,5.6 h-6.6z" fill="#8000ff"/><path d="M305.1,489.8 l3.3,5.6 h-6.6z" fill="#8000ff"/><path d="M310.9,489.8 l3.3,5.6 h-6.6z" fill="#8000ff"/><path d="M316.7,489.8 l3.3,5.6 h-6.6z" fill="#8000ff"/><path d="M187,486 l2.6,4.5 h-5.3z" fill="#8000ff"/><path d="M192.8,442.3 l2.6,4.5 h-5.3z" fill="#8000ff"/><path d="M199,357.4 l2.6,4.5 h-5.3z" fill="#8000ff"/><path d="M202.7,431.2 l2.6,4.5 h-5.3z" fill="#8000ff"/><path d="M210.5,351.4 l2.6,4.5 h-5.3z" fill="#8000ff"/><path d="M215,470.8 l2.6,4.5 h-5.3z" fill="#8000ff"/><path d="M220.5,488 l2.6,4.5 h-5.3z" fill="#8000ff"/>
<path d="M84.1,494.5 L89.9,494.5 L95.7,494.5 L101.5,494.5 L107.4,494.5 L113.2,494.5 L119,494.5 L124.8,494.5 L130.6,494.5 L136.4,494.5 L142.2,494.5 L148.1,494.5 L153.9,494.5 L159.7,494.5 L165.5,494.5 L171.3,494.5 L177.1,494.5 L182.8,488.6" stroke="#008080" stroke-width="1.8" fill="none"/>
<path d="M182.8,488.6 C184.6,476.6 186.5,478.7 188.3,452.6 C190.4,423.2 192.4,316.6 194.5,316.6 C196.1,316.6 197.8,425.3 199.4,425.3 C201.3,425.3 203.1,365.3 205,341.1 C205.9,329.9 206.7,312.9 207.6,312.9 C208.8,312.9 210,382.4 211.2,406.5 C213.1,444.6 215,460.2 216.9,487" stroke="#008080" stroke-width="1.8" fill="none"/>
<path d="M216.9,487 L223.7,494.5 L229.5,494.5 L235.3,494.5 L241.1,494.5 L246.9,494.5 L252.7,494.5 L258.6,494.5 L264.4,494.5 L270.2,494.5 L276,494.5 L281.8,494.5 L287.6,494.5 L293.4,494.5 L299.3,494.5 L305.1,494.5 L310.9,494.5 L316.7,494.5" stroke="#008080" stroke-width="1.8" fill="none"/>
<path d="M84.1,491 l3.5,3.5 l-3.5,3.5 l-3.5,-3.5 z" fill="#008080"/><path d="M89.9,491 l3.5,3.5 l-3.5,3.5 l-3.5,-3.5 z" fill="#008080"/><path d="M95.7,491 l3.5,3.5 l-3.5,3.5 l-3.5,-3.5 z" fill="#008080"/><path d="M101.5,491 l3.5,3.5 l-3.5,3.5 l-3.5,-3.5 z" fill="#008080"/><path d="M107.4,491 l3.5,3.5 l-3.5,3.5 l-3.5,-3.5 z" fill="#008080"/><path d="M113.2,491 l3.5,3.5 l-3.5,3.5 l-3.5,-3.5 z" fill="#008080"/><path d="M119,491 l3.5,3.5 l-3.5,3.5 l-3.5,-3.5 z" fill="#008080"/><path d="M124.8,491 l3.5,3.5 l-3.5,3.5 l-3.5,-3.5 z" fill="#008080"/><path d="M130.6,491 l3.5,3.5 l-3.5,3.5 l-3.5,-3.5 z" fill="#008080"/><path d="M136.4,491 l3.5,3.5 l-3.5,3.5 l-3.5,-3.5 z" fill="#008080"/><path d="M142.2,491 l3.5,3.5 l-3.5,3.5 l-3.5,-3.5 z" fill="#008080"/><path d="M148.1,491 l3.5,3.5 l-3.5,3.5 l-3.5,-3.5 z" fill="#008080"/><path d="M153.9,491 l3.5,3.5 l-3.5,3.5 l-3.5,-3.5 z" fill="#008080"/><path d="M159.7,491 l3.5,3.5 l-3.5,3.5 l-3.5,-3.5 z" fill="#008080"/><path d="M165.5,491 l3.5,3.5 l-3.5,3.5 l-3.5,-3.5 z" fill="#008080"/><path d="M171.3,491 l3.5,3.5 l-3.5,3.5 l-3.5,-3.5 z" fill="#008080"/><path d="M177.1,491 l3.5,3.5 l-3.5,3.5 l-3.5,-3.5 z" fill="#008080"/><path d="M223.7,491 l3.5,3.5 l-3.5,3.5 l-3.5,-3.5 z" fill="#008080"/><path d="M229.5,491 l3.5,3.5 l-3.5,3.5 l-3.5,-3.5 z" fill="#008080"/><path d="M235.3,491 l3.5,3.5 l-3.5,3.5 l-3.5,-3.5 z" fill="#008080"/><path d="M241.1,491 l3.5,3.5 l-3.5,3.5 l-3.5,-3.5 z" fill="#008080"/><path d="M246.9,491 l3.5,3.5 l-3.5,3.5 l-3.5,-3.5 z" fill="#008080"/><path d="M252.7,491 l3.5,3.5 l-3.5,3.5 l-3.5,-3.5 z" fill="#008080"/><path d="M258.6,491 l3.5,3.5 l-3.5,3.5 l-3.5,-3.5 z" fill="#008080"/><path d="M264.4,491 l3.5,3.5 l-3.5,3.5 l-3.5,-3.5 z" fill="#008080"/><path d="M270.2,491 l3.5,3.5 l-3.5,3.5 l-3.5,-3.5 z" fill="#008080"/><path d="M276,491 l3.5,3.5 l-3.5,3.5 l-3.5,-3.5 z" fill="#008080"/><path d="M281.8,491 l3.5,3.5 l-3.5,3.5 l-3.5,-3.5 z" fill="#008080"/><path d="M287.6,491 l3.5,3.5 l-3.5,3.5 l-3.5,-3.5 z" fill="#008080"/><path d="M293.4,491 l3.5,3.5 l-3.5,3.5 l-3.5,-3.5 z" fill="#008080"/><path d="M299.3,491 l3.5,3.5 l-3.5,3.5 l-3.5,-3.5 z" fill="#008080"/><path d="M305.1,491 l3.5,3.5 l-3.5,3.5 l-3.5,-3.5 z" fill="#008080"/><path d="M310.9,491 l3.5,3.5 l-3.5,3.5 l-3.5,-3.5 z" fill="#008080"/><path d="M316.7,491 l3.5,3.5 l-3.5,3.5 l-3.5,-3.5 z" fill="#008080"/><path d="M182.8,485.8 l2.8,2.8 l-2.8,2.8 l-2.8,-2.8 z" fill="#008080"/><path d="M188.3,449.8 l2.8,2.8 l-2.8,2.8 l-2.8,-2.8 z" fill="#008080"/><path d="M194.5,313.8 l2.8,2.8 l-2.8,2.8 l-2.8,-2.8 z" fill="#008080"/><path d="M199.4,422.5 l2.8,2.8 l-2.8,2.8 l-2.8,-2.8 z" fill="#008080"/><path d="M205,338.3 l2.8,2.8 l-2.8,2.8 l-2.8,-2.8 z" fill="#008080"/><path d="M211.2,403.7 l2.8,2.8 l-2.8,2.8 l-2.8,-2.8 z" fill="#008080"/><path d="M216.9,484.2 l2.8,2.8 l-2.8,2.8 l-2.8,-2.8 z" fill="#008080"/>
<rect x="351.4" y="269.2" width="18.1" height="280" fill="#ffff00"/>
<text transform="translate(351.0,295.8) scale(1.04,1)" font-size="15.5" font-weight="normal" stroke="#000" stroke-width="0.4">(d)</text>
<g id="pd">
<rect x="402.3" y="290.8" width="281.7" height="227.8" fill="none" stroke="#000" stroke-width="2"/>
<path d="M402.1,518.6 v-2.5 M430.3,518.6 v-4 M458.5,518.6 v-2.5 M486.7,518.6 v-4 M514.9,518.6 v-2.5 M543.1,518.6 v-4 M571.3,518.6 v-2.5 M599.5,518.6 v-4 M627.7,518.6 v-2.5 M655.9,518.6 v-4 M684.1,518.6 v-2.5 M402.3,518.6 h4 M402.3,490.5 h2.5 M402.3,462.4 h4 M402.3,434.3 h2.5 M402.3,406.2 h4 M402.3,378.1 h2.5 M402.3,349.9 h4 M402.3,321.8 h2.5 M402.3,293.7 h4" stroke="#000" stroke-width="1.5" fill="none"/>
<text x="430.3" y="530.3" font-size="9" text-anchor="middle" font-weight="bold" font-style="normal" >-2</text>
<text x="486.7" y="530.3" font-size="9" text-anchor="middle" font-weight="bold" font-style="normal" >-1</text>
<text x="543.1" y="530.3" font-size="9" text-anchor="middle" font-weight="bold" font-style="normal" >0</text>
<text x="599.5" y="530.3" font-size="9" text-anchor="middle" font-weight="bold" font-style="normal" >1</text>
<text x="655.9" y="530.3" font-size="9" text-anchor="middle" font-weight="bold" font-style="normal" >2</text>
<text x="398.3" y="521.6" font-size="9" text-anchor="end" font-weight="bold" font-style="normal" >0.0</text>
<text x="398.3" y="465.4" font-size="9" text-anchor="end" font-weight="bold" font-style="normal" >0.2</text>
<text x="398.3" y="409.2" font-size="9" text-anchor="end" font-weight="bold" font-style="normal" >0.4</text>
<text x="398.3" y="352.9" font-size="9" text-anchor="end" font-weight="bold" font-style="normal" >0.6</text>
<text x="398.3" y="295.7" font-size="9" text-anchor="end" font-weight="bold" font-style="normal" >0.8</text>
<text x="527" y="537.6" font-size="11" font-weight="bold" textLength="17.5" lengthAdjust="spacingAndGlyphs"><tspan font-style="italic">r</tspan>/<tspan font-style="italic">R</tspan><tspan font-size="7.5" dy="2.5">0</tspan></text>
<text transform="translate(383.3,450.5) rotate(-90)" font-size="11.5" font-weight="normal" xml:space="preserve" textLength="91" lengthAdjust="spacingAndGlyphs">Turbulent  Intensity</text>
<path d="M556.8,327.7 H578.9" stroke="#000" stroke-width="2"/>
<text x="583.9" y="331" font-size="10.1" text-anchor="start" font-weight="bold" font-style="normal" textLength="94.2" lengthAdjust="spacingAndGlyphs">(Present study <tspan font-style="italic">z</tspan>=0.2)</text>
<path d="M556.8,340.8 H578.9" stroke="#8000ff" stroke-width="2"/>
<text x="583.9" y="344.1" font-size="10.1" text-anchor="start" font-weight="bold" font-style="normal" textLength="94.2" lengthAdjust="spacingAndGlyphs">(Present study <tspan font-style="italic">z</tspan>=0.4)</text>
<path d="M556.8,354 H578.9" stroke="#ff8000" stroke-width="2" stroke-dasharray="8.6 3.3 2.4 3.2"/>
<text x="583.9" y="357.3" font-size="10.1" text-anchor="start" font-weight="bold" font-style="normal" textLength="94.2" lengthAdjust="spacingAndGlyphs">(Present study <tspan font-style="italic">z</tspan>=0.6)</text>
<path d="M556.8,367.1 H578.9" stroke="#008000" stroke-width="2" stroke-dasharray="5.7 3.6 2.4 3.2 2.4 3.6"/>
<text x="583.9" y="370.4" font-size="10.1" text-anchor="start" font-weight="bold" font-style="normal" textLength="94.2" lengthAdjust="spacingAndGlyphs">(Present study <tspan font-style="italic">z</tspan>=0.8)</text>
</g>
<g clip-path="url(#clipd)">
<path d="M402.3,504.2 C404.7,504.8 410.9,506.7 416.9,507.7 C422.9,508.7 430.3,509.6 438.1,510.2 C445.9,510.8 455,511.2 463.5,511.3 C472,511.4 482,511.2 488.9,510.6 C495.8,510 500.9,508.7 505,507.5 C509.1,506.3 511.6,505 513.8,503.6 C516,502.2 516.6,500.9 518.3,499.2 C520,497.5 522.1,495.7 523.8,493.7 C525.4,491.7 526.9,489.8 528.2,487 C529.5,484.2 530.6,480.6 531.5,477.1 C532.4,473.6 533,471.1 533.7,466 C534.4,460.9 535.3,453.9 535.9,446.2 C536.5,438.5 536.9,429.4 537.3,420 C537.6,410.6 537.8,399.7 538,390 C538.2,380.3 538.2,368.8 538.3,362 C538.4,355.2 538,350.5 538.4,349 C538.8,347.5 540.1,350.5 540.9,353 C541.7,355.5 542.5,364 543.4,364 C544.2,364 545.2,355.9 546,353 C546.8,350.1 547.9,345 548.4,346.5 C548.9,348 549,354.8 549.2,362 C549.4,369.2 549.5,380.3 549.7,390 C549.9,399.7 550.1,410.6 550.5,420 C550.9,429.4 551.6,438.1 552,446.2 C552.4,454.2 552.5,462.8 553.1,468.3 C553.7,473.8 554.6,476 555.8,479.3 C557,482.6 558.7,485.5 560.2,488.1 C561.7,490.7 563.2,492.7 565,494.8 C566.8,496.9 567.9,498.4 571,500.5 C574.1,502.6 577.3,505.8 583.7,507.5 C590.1,509.2 600.1,510.2 609.5,510.8 C618.9,511.4 630.9,511.1 640,510.8 C649.1,510.5 658.6,509.5 664.2,508.9 C669.8,508.3 670.1,507.9 673.4,507 C676.7,506.1 682.2,504.3 684,503.8" stroke="#000" stroke-width="1.9" fill="none" stroke-linejoin="round"/>
<path d="M402.3,503.3 C404.7,504 410.9,506.2 416.9,507.3 C422.9,508.4 430.3,509.3 438.1,510 C445.9,510.7 455,511.2 463.5,511.3 C472,511.4 482,511 488.9,510.6 C495.8,510.2 500.9,509.7 505,509.1 C509.1,508.5 511.2,508.2 513.8,506.9 C516.4,505.6 518.6,503.4 520.5,501.4 C522.4,499.4 523.7,497.2 524.9,494.8 C526.1,492.4 527,489.9 527.7,487 C528.4,484.1 528.8,480.6 529.3,477.1 C529.8,473.6 530.2,470.1 530.6,466 C531,461.9 531.4,459.5 531.8,452.8 C532.2,446.1 532.8,434.5 533.2,426 C533.6,417.5 533.8,410 534.2,402 C534.6,394 535,386.9 535.6,377.9 C536.2,368.9 537,350.4 537.7,347.8 C538.4,345.2 539,357.9 539.6,362.5 C540.2,367.1 541,372.1 541.6,375.2 C542.2,378.3 542.7,381.2 543.2,381.2 C543.7,381.2 544.2,378.5 544.8,375.2 C545.4,371.9 546.2,366.4 546.8,361.5 C547.4,356.6 547.8,344.1 548.3,345.8 C548.8,347.5 549,362.5 549.6,371.9 C550.2,381.3 551.3,392.3 551.9,402 C552.5,411.7 552.6,422 553,430 C553.4,438 554.1,445 554.5,450 C554.9,455 554.9,456.4 555.3,460 C555.7,463.6 556.3,467.8 556.9,471.6 C557.5,475.4 558.2,479.3 559.1,482.6 C560,485.9 561.5,489.1 562.5,491.5 C563.5,493.9 563.6,494.7 565,497 C566.4,499.3 566.5,503.2 570.9,505.5 C575.3,507.8 583.3,509.6 591.5,510.5 C599.7,511.4 610.2,511.1 620,511 C629.8,510.9 641.9,510.1 650,509.6 C658.1,509.1 663.9,509 668.8,508.2 C673.7,507.4 677.7,505.2 679.5,504.6" stroke="#8000ff" stroke-width="1.9" fill="none" stroke-linejoin="round"/>
<path d="M402.3,503.3 C404.7,504 410.9,506.2 416.9,507.3 C422.9,508.4 430.3,509.3 438.1,510 C445.9,510.7 455,511.2 463.5,511.3 C472,511.4 482,511 488.9,510.6 C495.8,510.2 500.9,509.7 505,509.1 C509.1,508.5 511.2,508.2 513.8,506.9 C516.4,505.6 518.6,503.4 520.5,501.4 C522.4,499.4 523.7,497.2 524.9,494.8 C526.1,492.4 527,489.9 527.7,487 C528.4,484.1 528.8,480.6 529.3,477.1 C529.8,473.6 530.2,470.1 530.6,466 C531,461.9 531.4,459.5 531.8,452.8 C532.2,446.1 532.8,434.5 533.2,426 C533.6,417.5 533.8,412.3 534.2,402 C534.6,391.7 534.9,377.8 535.4,364.2 C535.9,350.6 536.5,322.5 537.1,320.4 C537.7,318.3 538.4,341.7 539,351.9 C539.6,362 540.3,375.4 541,381.3 C541.7,387.2 542.5,387.3 543.2,387.3 C543.9,387.3 544.5,387.4 545.2,381.3 C545.9,375.2 546.6,361.3 547.2,350.9 C547.8,340.4 548.2,317.2 548.7,318.4 C549.2,319.6 549.5,344.3 550,358.2 C550.5,372.1 551.4,390 551.9,402 C552.4,414 552.6,422 553,430 C553.4,438 554.1,445 554.5,450 C554.9,455 554.9,456.4 555.3,460 C555.7,463.6 556.3,467.8 556.9,471.6 C557.5,475.4 558.2,479.3 559.1,482.6 C560,485.9 561.5,489.1 562.5,491.5 C563.5,493.9 563.6,494.7 565,497 C566.4,499.3 566.5,503.2 570.9,505.5 C575.3,507.8 583.3,509.6 591.5,510.5 C599.7,511.4 610.2,511.1 620,511 C629.8,510.9 641.9,510.1 650,509.6 C658.1,509.1 663.9,509 668.8,508.2 C673.7,507.4 677.7,505.2 679.5,504.6" stroke="#ff8000" stroke-width="1.9" fill="none" stroke-linejoin="round" stroke-dasharray="8.6 3.3 2.4 3.2"/>
<path d="M402.3,503.3 C404.7,504 410.9,506.2 416.9,507.3 C422.9,508.4 430.3,509.3 438.1,510 C445.9,510.7 455,511.2 463.5,511.3 C472,511.4 482,511 488.9,510.6 C495.8,510.2 500.9,509.7 505,509.1 C509.1,508.5 511.2,508.2 513.8,506.9 C516.4,505.6 518.6,503.4 520.5,501.4 C522.4,499.4 523.7,497.2 524.9,494.8 C526.1,492.4 527,489.9 527.7,487 C528.4,484.1 528.8,480.6 529.3,477.1 C529.8,473.6 530.2,470.1 530.6,466 C531,461.9 531.4,459.5 531.8,452.8 C532.2,446.1 532.8,434.5 533.2,426 C533.6,417.5 533.8,414 534.2,402 C534.6,390 534.9,371 535.4,354.1 C535.9,337.1 536.5,303 537.1,300.1 C537.7,297.2 538.4,324.8 539,336.6 C539.6,348.5 540.3,364.4 541,371.2 C541.7,378 542.4,377.2 543.2,377.2 C544,377.2 545,378.1 545.8,371.2 C546.6,364.3 547.2,347.8 547.8,335.6 C548.4,323.5 548.8,296 549.3,298.1 C549.8,300.2 550.2,330.7 550.6,348.1 C551,365.4 551.5,388.3 551.9,402 C552.3,415.7 552.6,422 553,430 C553.4,438 554.1,445 554.5,450 C554.9,455 554.9,456.4 555.3,460 C555.7,463.6 556.3,467.8 556.9,471.6 C557.5,475.4 558.2,479.3 559.1,482.6 C560,485.9 561.5,489.1 562.5,491.5 C563.5,493.9 563.6,494.7 565,497 C566.4,499.3 566.5,503.2 570.9,505.5 C575.3,507.8 583.3,509.6 591.5,510.5 C599.7,511.4 610.2,511.1 620,511 C629.8,510.9 641.9,510.1 650,509.6 C658.1,509.1 663.9,509 668.8,508.2 C673.7,507.4 677.7,505.2 679.5,504.6" stroke="#008000" stroke-width="1.9" fill="none" stroke-linejoin="round" stroke-dasharray="5.7 3.6 2.4 3.2 2.4 3.6"/>
</g>
<clipPath id="clipd"><rect x="402.3" y="290.8" width="281.7" height="227.8"/></clipPath>
<text transform="translate(-0.5,14.6) scale(1.07,1)" font-size="15" font-weight="normal" stroke="#000" stroke-width="0.4">(a)</text>
<text transform="translate(348.3,15.0) scale(1.06,1)" font-size="15" font-weight="normal" stroke="#000" stroke-width="0.4">(b)</text>
<text transform="translate(-0.8,295.6) scale(1.07,1)" font-size="15.2" font-weight="normal" stroke="#000" stroke-width="0.4">(c)</text>
</svg>
</body></html>
